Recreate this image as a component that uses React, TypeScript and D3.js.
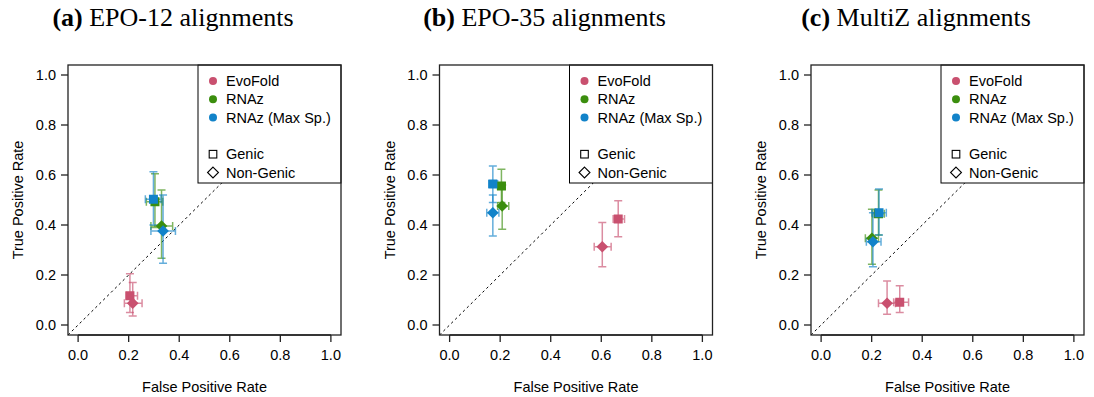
import React, { useEffect } from "react";
import * as d3 from "d3";

// panels, methods, point types
const panelLetters = ["a", "b", "c"];
const panelTitles = ["EPO-12 alignments", "EPO-35 alignments", "MultiZ alignments"];
const methods = ["EvoFold", "RNAz", "RNAz (Max Sp.)"];
const methodColors = ["#C9506F", "#3B8E0E", "#1283C9"];
const pointTypes = ["Genic", "Non-Genic"];
const axisTicks = [0, 0.2, 0.4, 0.6, 0.8, 1.0];

// [method, type, fpr, fprLo, fprHi, tpr, tprLo, tprHi]
type Pt = [number, number, number, number, number, number, number, number];

const epo12Points: Pt[] = [
    [0, 0, 0.205, 0.19, 0.235, 0.117, 0.05, 0.205],
    [0, 1, 0.216, 0.183, 0.253, 0.087, 0.036, 0.17],
    [1, 0, 0.304, 0.27, 0.335, 0.493, 0.39, 0.605],
    [1, 1, 0.33, 0.288, 0.374, 0.396, 0.267, 0.54],
    [2, 0, 0.298, 0.266, 0.328, 0.503, 0.4, 0.613],
    [2, 1, 0.336, 0.288, 0.385, 0.376, 0.247, 0.52],
];

const epo35Points: Pt[] = [
    [0, 0, 0.667, 0.647, 0.692, 0.424, 0.353, 0.497],
    [0, 1, 0.604, 0.572, 0.639, 0.313, 0.233, 0.41],
    [1, 0, 0.205, 0.19, 0.22, 0.556, 0.49, 0.623],
    [1, 1, 0.208, 0.19, 0.234, 0.476, 0.383, 0.56],
    [2, 0, 0.171, 0.155, 0.19, 0.564, 0.49, 0.636],
    [2, 1, 0.171, 0.147, 0.195, 0.449, 0.356, 0.52],
];

const multizPoints: Pt[] = [
    [0, 0, 0.311, 0.287, 0.346, 0.091, 0.05, 0.157],
    [0, 1, 0.261, 0.227, 0.294, 0.087, 0.043, 0.176],
    [1, 0, 0.227, 0.205, 0.25, 0.445, 0.36, 0.54],
    [1, 1, 0.201, 0.175, 0.227, 0.347, 0.243, 0.463],
    [2, 0, 0.229, 0.201, 0.258, 0.449, 0.36, 0.544],
    [2, 1, 0.205, 0.179, 0.237, 0.333, 0.233, 0.449],
];

const panelData = [epo12Points, epo35Points, multizPoints];

const W = 1094;
const H = 397;
const plotW = 273;
const plotH = 270;
const top = 65;
const sans = "'Liberation Sans', Arial, Helvetica, sans-serif";
const serif = "'Liberation Serif', 'Times New Roman', serif";

const x = d3.scaleLinear().domain([-0.04, 1.04]).range([0, plotW]);
const y = d3.scaleLinear().domain([-0.04, 1.04]).range([plotH, 0]);
const panelX = d3.scaleLinear().domain([0, 1]).range([68, 68 + 371.5]);

function marker(type: number, cx: number, cy: number, color: string, filled: boolean, s: number) {
    if (type === 0) {
        return (
            <rect x={cx - s} y={cy - s} width={2 * s} height={2 * s}
                fill={filled ? color : "none"} stroke={color} strokeWidth={filled ? 0 : 1.1} />
        );
    }
    const d = s * 1.3;
    return (
        <path d={`M${cx},${cy - d}L${cx + d},${cy}L${cx},${cy + d}L${cx - d},${cy}Z`}
            fill={filled ? color : "none"} stroke={color} strokeWidth={filled ? 0 : 1.1} />
    );
}

function Panel({ idx }: { idx: number }) {
    const pts = panelData[idx];
    const cap = 4;
    const legX = plotW - 143;
    const legRows = [0, 1, 2, 4, 5];
    return (
        <g transform={`translate(${panelX(idx)},${top})`}>
            {/* dotted diagonal */}
            <line x1={x(-0.04)} y1={y(-0.04)} x2={x(1.04)} y2={y(1.04)}
                stroke="#000" strokeWidth={1} strokeDasharray="2.5,3" />

            {pts.map((p, i) => {
                const [m, , fx, fl, fh, ty, tl, th] = p;
                const c = methodColors[m];
                return (
                    <g key={"e" + i} stroke={c} strokeWidth={1.5} opacity={0.65} fill="none">
                        <line x1={x(fx)} x2={x(fx)} y1={y(tl)} y2={y(th)} />
                        <line x1={x(fx) - cap} x2={x(fx) + cap} y1={y(tl)} y2={y(tl)} />
                        <line x1={x(fx) - cap} x2={x(fx) + cap} y1={y(th)} y2={y(th)} />
                        <line x1={x(fl)} x2={x(fh)} y1={y(ty)} y2={y(ty)} />
                        <line x1={x(fl)} x2={x(fl)} y1={y(ty) - cap} y2={y(ty) + cap} />
                        <line x1={x(fh)} x2={x(fh)} y1={y(ty) - cap} y2={y(ty) + cap} />
                    </g>
                );
            })}
            {pts.map((p, i) => (
                <g key={"p" + i}>{marker(p[1], x(p[2]), y(p[5]), methodColors[p[0]], true, 4.5)}</g>
            ))}

            {/* legend */}
            <rect x={legX} y={0} width={143} height={118} fill="#fff" stroke="#000" strokeWidth={1} />
            {legRows.map((r, k) => {
                const ly = 16 + r * 18.3;
                if (k < 3) {
                    return (
                        <g key={"l" + k}>
                            <circle cx={legX + 15} cy={ly} r={4} fill={methodColors[k]} />
                            <text x={legX + 28} y={ly + 5} fontSize={14.5} fontFamily={sans}>{methods[k]}</text>
                        </g>
                    );
                }
                const t = k - 3;
                return (
                    <g key={"l" + k}>
                        {marker(t, legX + 15, ly, "#000", false, t === 0 ? 3.8 : 4.2)}
                        <text x={legX + 28} y={ly + 5} fontSize={14.5} fontFamily={sans}>{pointTypes[t]}</text>
                    </g>
                );
            })}

            {/* box */}
            <rect x={0} y={0} width={plotW} height={plotH} fill="none" stroke="#222" strokeWidth={1.3} />

            {/* x axis */}
            <line x1={x(0)} x2={x(1)} y1={plotH} y2={plotH} stroke="#222" strokeWidth={1.3} />
            {axisTicks.map((t) => (
                <g key={"xt" + t}>
                    <line x1={x(t)} x2={x(t)} y1={plotH} y2={plotH + 7} stroke="#222" strokeWidth={1.3} />
                    <text x={x(t)} y={plotH + 25} textAnchor="middle" fontSize={14.5} fontFamily={sans}>{t.toFixed(1)}</text>
                </g>
            ))}
            <text x={plotW / 2} y={plotH + 57} textAnchor="middle" fontSize={14.5} fontFamily={sans}>False Positive Rate</text>

            {/* y axis */}
            {axisTicks.map((t) => (
                <g key={"yt" + t}>
                    <line x1={-7} x2={0} y1={y(t)} y2={y(t)} stroke="#222" strokeWidth={1.3} />
                    <text x={-12} y={y(t) + 5} textAnchor="end" fontSize={14.5} fontFamily={sans}>{t.toFixed(1)}</text>
                </g>
            ))}
            <text transform={`translate(${-45},${plotH / 2}) rotate(-90)`} textAnchor="middle"
                fontSize={14.5} fontFamily={sans}>True Positive Rate</text>

            {/* title */}
            <text x={105} y={-39} textAnchor="middle" fontSize={26} fontFamily={serif}>
                <tspan fontWeight="bold">({panelLetters[idx]})</tspan> {panelTitles[idx]}
            </text>
        </g>
    );
}

export default function App() {
    useEffect(() => {
        document.body.style.margin = "0";
    }, []);
    return (
        <svg width={W} height={H} style={{ display: "block", background: "#fff" }}>
            {panelLetters.map((_, i) => (
                <Panel key={i} idx={i} />
            ))}
        </svg>
    );
}
